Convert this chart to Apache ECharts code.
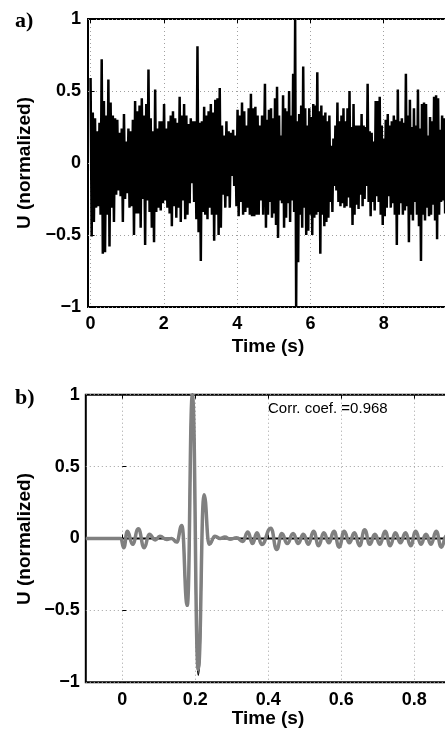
<!DOCTYPE html>
<html><head><meta charset="utf-8">
<script src="https://cdn.jsdelivr.net/npm/echarts@6/dist/echarts.min.js"></script>
<style>html,body{margin:0;padding:0;background:#fff}#c{width:445px;height:732px}</style>
</head><body><div id="c"></div>
<script>
// ---- Panel a: noise record (positive and negative excursions) ----
const upperA = [0.59,0.35,0.31,0.22,0.28,0.72,0.43,0.33,0.58,0.42,
0.33,0.31,0.30,0.21,0.24,0.34,0.15,0.24,0.22,0.30,
0.43,0.36,0.40,0.45,0.33,0.41,0.65,0.31,0.22,0.51,
0.24,0.29,0.29,0.41,0.24,0.29,0.33,0.36,0.31,0.28,
0.46,0.33,0.41,0.33,0.27,0.31,0.29,0.29,0.81,0.28,
0.29,0.39,0.33,0.36,0.41,0.35,0.44,0.45,0.52,0.26,
0.19,0.29,0.22,0.21,0.23,0.19,0.37,0.33,0.42,0.36,
0.26,0.38,0.48,0.38,0.39,0.33,0.26,0.33];
const lowerA = [-0.51,-0.41,-0.31,-0.30,-0.36,-0.63,-0.62,-0.36,-0.58,-0.31,
-0.41,-0.22,-0.19,-0.23,-0.41,-0.25,-0.21,-0.31,-0.30,-0.50,
-0.35,-0.35,-0.45,-0.25,-0.57,-0.26,-0.34,-0.45,-0.55,-0.34,
-0.31,-0.33,-0.28,-0.26,-0.31,-0.35,-0.44,-0.30,-0.38,-0.31,-0.41,
-0.26,-0.39,-0.36,-0.28,-0.14,-0.27,-0.39,-0.48,-0.68,-0.34,
-0.36,-0.39,-0.31,-0.36,-0.54,-0.36,-0.50,-0.45,-0.22,-0.31,
-0.23,-0.31,-0.09,-0.16,-0.30,-0.37,-0.27,-0.36,-0.34,-0.31,
-0.36,-0.37,-0.37,-0.36,-0.36,-0.26,-0.36];
const upperB = [0.55,0.30,0.37,0.38,0.31,0.45,0.53,0.33,0.19,0.47,
0.38,0.36,0.50,0.33,0.62,1.00,0.29,0.34,0.40,0.67,
0.38,0.26,0.38,0.32,0.41,0.40,0.63,0.36,0.40,0.33,
0.35,0.29,0.33,0.12,0.17,0.26,0.42,0.29,0.33,0.38,
0.29,0.38,0.50,0.25,0.41,0.26,0.26,0.26,0.34,0.26,
0.25,0.55,0.22,0.21,0.15,0.43,0.43,0.46,0.26,0.17,
0.30,0.34,0.26,0.29,0.33,0.30,0.51,0.29,0.31,0.28,0.62,
0.33,0.44,0.25,0.38,0.26,0.51,0.24,0.41,0.42,0.41,
0.19,0.32,0.29,0.46,0.47,0.45,0.23,0.33,0.31];
const lowerB = [-0.45,-0.36,-0.27,-0.38,-0.35,-0.43,-0.52,-0.26,-0.28,-0.45,
-0.38,-0.28,-0.41,-0.26,-0.34,-1.00,-0.69,-0.36,-0.45,-0.31,
-0.50,-0.47,-0.36,-0.50,-0.38,-0.36,-0.34,-0.63,-0.36,-0.44,
-0.41,-0.38,-0.27,-0.34,-0.16,-0.19,-0.27,-0.30,-0.28,-0.31,
-0.30,-0.24,-0.31,-0.43,-0.36,-0.29,-0.32,-0.22,-0.30,-0.25,
-0.16,-0.27,-0.37,-0.27,-0.33,-0.23,-0.27,-0.36,-0.43,-0.37,
-0.31,-0.23,-0.31,-0.28,-0.36,-0.57,-0.36,-0.28,-0.36,-0.33,
-0.30,-0.55,-0.36,-0.40,-0.27,-0.36,-0.44,-0.68,-0.36,-0.40,
-0.31,-0.37,-0.36,-0.29,-0.40,-0.53,-0.36,-0.27,-0.26,-0.35];
// time spans (s) covered by each pair of excursion lists
const spanA = [0, 4.68];
const spanB = [4.759, 9.649];

// ---- Panel b: wavelets ----
const grayT = [-0.1,-0.004,0.004,0.014,0.028,0.044,0.060,0.074,0.090,0.103,
0.122,0.135,0.149,0.163,0.178,0.192,0.208,0.224,0.238,0.254,
0.268,0.281,0.295,0.313,0.330,0.344,0.357,0.369,0.382,0.407,
0.423,0.437,0.452,0.468,0.482,0.496,0.510,0.524,0.538,0.552,
0.566,0.580,0.594,0.608,0.622,0.636,0.650,0.664,0.678,0.692,
0.706,0.720,0.734,0.748,0.762,0.776,0.790,0.804,0.818,0.832,
0.846,0.860,0.874,0.888,0.902,1.0];
const grayV = [0,0,-0.065,0.05,-0.04,0.067,-0.065,0.03,-0.01,0.015,
-0.007,0,-0.025,0.09,-0.465,1.0,-0.91,0.305,-0.04,0.016,
0,0.01,-0.005,0.005,-0.02,0.045,-0.035,0.04,-0.042,0.072,
-0.076,0.035,-0.035,0.035,-0.035,0.03,-0.04,0.05,-0.05,0.04,
-0.03,0.05,-0.06,0.05,-0.03,0.04,-0.05,0.06,-0.04,0.03,
-0.04,0.05,-0.05,0.04,-0.03,0.04,-0.05,0.05,-0.04,0.03,
-0.04,0.05,-0.06,0.02,0,0];
const blackT = [-0.1,0.135,0.149,0.163,0.178,0.192,0.208,0.224,0.238,0.254,0.268,1.0];
const blackV = [0,0,-0.02,0.08,-0.46,1.0,-0.95,0.30,-0.04,0.01,0,0];

// ---- ticks & texts ----
const xTicksA = [0,2,4,6,8,10];
const xTicksB = [0,0.2,0.4,0.6,0.8,1];
const panelLabels = ['a)','b)'];
const yTitle = 'U (normalized)';
const xTitle = 'Time (s)';
const corrText = 'Corr. coef. =0.968';

// alternate each positive excursion with the following negative one
function zigzag(up, lo, span){
  const n = up.length, dt = (span[1]-span[0])/(n-1), out = [];
  for (let i=0;i<n;i++){
    out.push([span[0]+i*dt, up[i]]);
    out.push([span[0]+(i+0.5)*dt, lo[i]]);
  }
  return out;
}
const noise = zigzag(upperA, lowerA, spanA).concat(zigzag(upperB, lowerB, spanB));
const gray = grayT.map((t,i)=>[t,grayV[i]]);
const black = blackT.map((t,i)=>[t,blackV[i]]);

const SANS = '"Liberation Sans", Arial, Helvetica, sans-serif';
const fmt = v => (v<0?'\u2212':'') + String(Math.abs(Math.round(v*100)/100));
const grid = [
  {left:88, top:19, width:369, height:288},
  {left:85.8, top:394.7, width:401.5, height:287.6}
];
const splitStyle = {show:true, lineStyle:{type:[1,3], color:'#a0a0a0', width:1}};
function xAx(gi, ticks, min, max, margin){
  return [
    {gridIndex:gi, type:'value', min:min, max:max, position:'bottom',
     axisLine:{show:false},
     axisTick:{show:true, inside:true, length:4, customValues:ticks, lineStyle:{color:'#000', width:1}},
     axisLabel:{customValues:ticks, formatter:fmt, margin:margin, fontSize:18, fontWeight:'bold', color:'#000', fontFamily:SANS},
     splitLine:splitStyle},
    {gridIndex:gi, type:'value', min:min, max:max, position:'top',
     axisLine:{show:false},
     axisTick:{show:true, inside:true, length:4, customValues:ticks, lineStyle:{color:'#000', width:1}},
     axisLabel:{show:false}, splitLine:{show:false}}
  ];
}
function yAx(gi, margin){
  return {gridIndex:gi, type:'value', min:-1, max:1, interval:0.5,
    axisLine:{show:false},
    axisTick:{show:true, inside:true, length:4, lineStyle:{color:'#000', width:1}},
    axisLabel:{formatter:fmt, margin:margin, fontSize:18, fontWeight:'bold', color:'#000', fontFamily:SANS},
    splitLine:splitStyle};
}
const chart = echarts.init(document.getElementById('c'), null, {renderer:'canvas'});
chart.setOption({
  animation:false,
  backgroundColor:'#fff',
  grid: grid.map(g=>Object.assign({show:true, borderColor:'#000', borderWidth:2, backgroundColor:'transparent', containLabel:false, outerBoundsMode:'none'}, g)),
  xAxis: xAx(0, xTicksA, -0.07, 10, 8).concat(xAx(1, xTicksB, -0.1, 1, 9)),
  yAxis: [yAx(0,7), yAx(1,6)],
  series: [
    {type:'line', xAxisIndex:0, yAxisIndex:0, data:noise, showSymbol:false, symbol:'none',
     lineStyle:{color:'#000', width:2.5}, clip:true},
    {type:'line', xAxisIndex:2, yAxisIndex:1, data:black, showSymbol:false, symbol:'none',
     smooth:0.5, smoothMonotone:'x', lineStyle:{color:'#000', width:2}, clip:true},
    {type:'line', xAxisIndex:2, yAxisIndex:1, data:gray, showSymbol:false, symbol:'none',
     smooth:0.5, smoothMonotone:'x', lineStyle:{color:'#808080', width:3.5}, clip:true}
  ],
  graphic: [
    {type:'text', left:15, top:10, style:{text:panelLabels[0], font:'bold 22px "Liberation Serif", "Times New Roman", serif', fill:'#000'}},
    {type:'text', left:15, top:387, style:{text:panelLabels[1], font:'bold 22px "Liberation Serif", "Times New Roman", serif', fill:'#000'}},
    {type:'text', x:25, y:163, rotation:Math.PI/2, style:{text:yTitle, font:'bold 19px '+SANS, fill:'#000', align:'center', verticalAlign:'middle', textAlign:'center', textVerticalAlign:'middle'}},
    {type:'text', x:25, y:539, rotation:Math.PI/2, style:{text:yTitle, font:'bold 19px '+SANS, fill:'#000', align:'center', verticalAlign:'middle', textAlign:'center', textVerticalAlign:'middle'}},
    {type:'text', x:268, y:347, style:{text:xTitle, font:'bold 19px '+SANS, fill:'#000', align:'center', verticalAlign:'middle', textAlign:'center', textVerticalAlign:'middle'}},
    {type:'text', x:268, y:719, style:{text:xTitle, font:'bold 19px '+SANS, fill:'#000', align:'center', verticalAlign:'middle', textAlign:'center', textVerticalAlign:'middle'}},
    {type:'text', x:268, y:409, style:{text:corrText, font:'15px '+SANS, fill:'#000', align:'left', verticalAlign:'middle', textAlign:'left', textVerticalAlign:'middle'}}
  ]
});
</script></body></html>
